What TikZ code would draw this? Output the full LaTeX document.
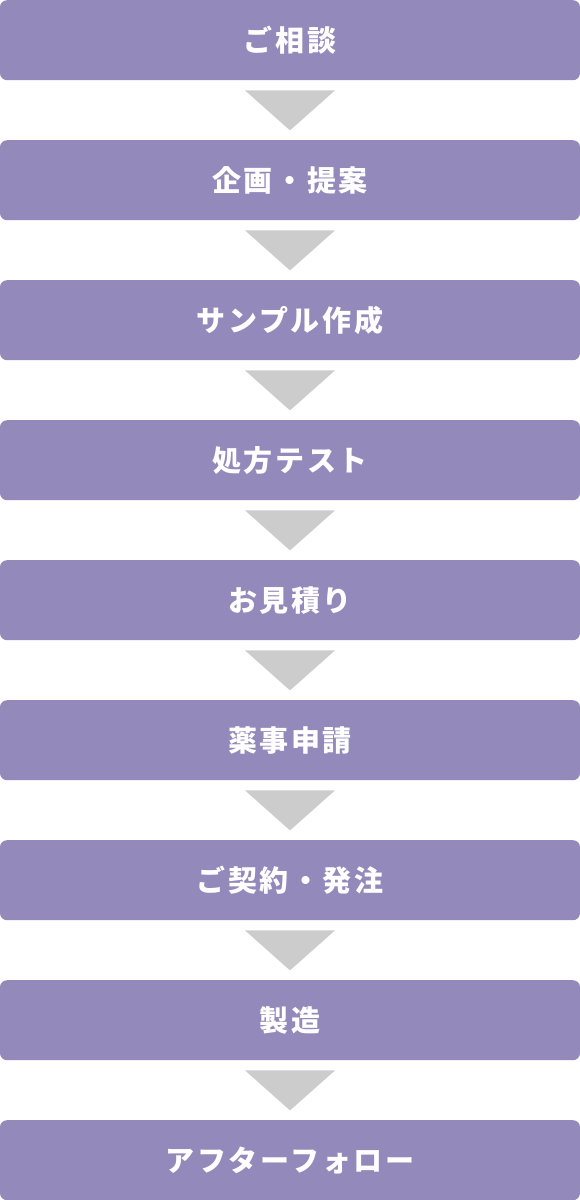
\documentclass[tikz,border=0pt]{standalone}
\usepackage{fontspec}
\newfontfamily\jp{Noto Sans CJK JP}[LetterSpace=9]
\definecolor{stepcol}{HTML}{9389BA}
\definecolor{arrcol}{HTML}{CCCCCC}
\begin{document}
\begin{tikzpicture}[x=1pt,y=-1pt,
  stepbox/.style={fill=stepcol,rounded corners=7pt,minimum width=580pt,minimum height=80pt,
    inner sep=0pt,text=white,font=\jp\bfseries\fontsize{29pt}{29pt}\selectfont,anchor=north},
  arrowtri/.style={fill=arrcol}]
\useasboundingbox (0,0) rectangle (580,1200);
\foreach \t [count=\i from 0] in {ご相談,企画・提案,サンプル作成,処方テスト,お見積り,薬事申請,ご契約・発注,製造,アフターフォロー}{
  \node[stepbox] (b\i) at (290,140*\i) {\t};
}
\foreach \i in {0,...,7}{
  \fill[arrowtri] (b\i.south) ++(-45,10) -- ++(90,0) -- ++(-45,40) -- cycle;
}
\end{tikzpicture}
\end{document}
